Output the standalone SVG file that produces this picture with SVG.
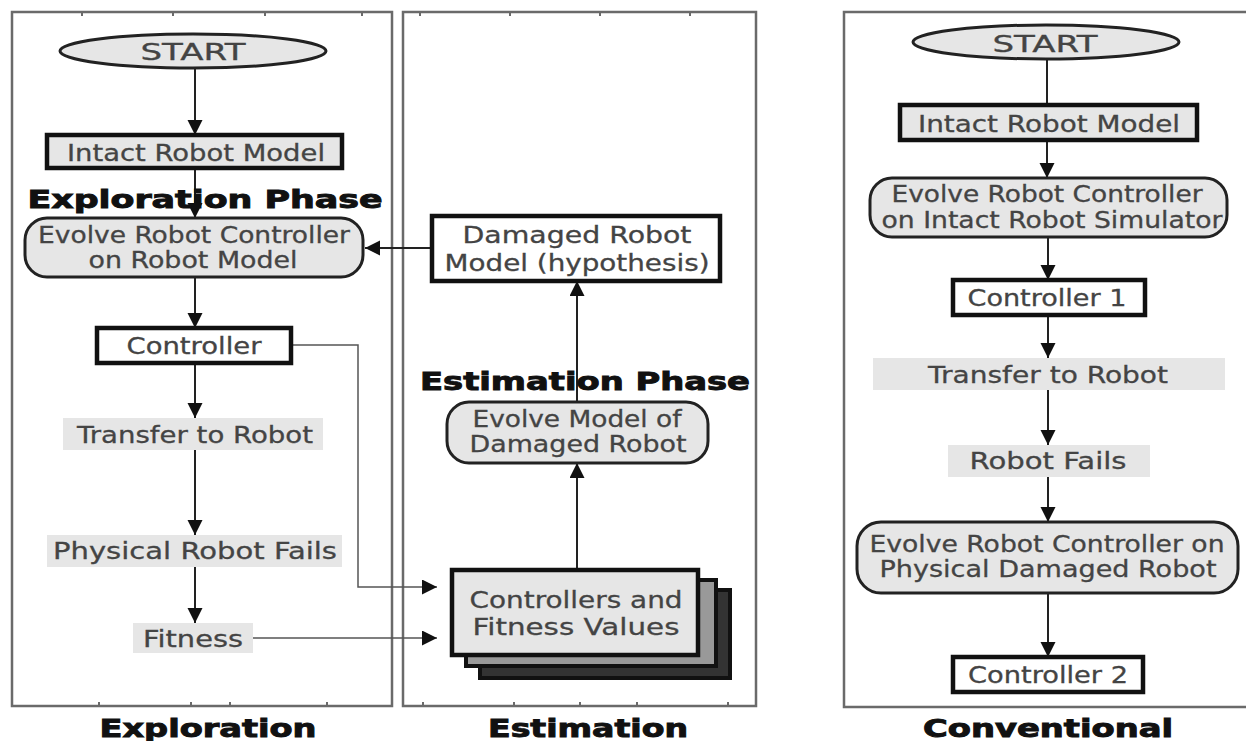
<svg xmlns="http://www.w3.org/2000/svg" width="1246" height="741" viewBox="0 0 1246 741">
<defs>
<marker id="ah" markerUnits="userSpaceOnUse" markerWidth="16" markerHeight="16" refX="15" refY="7.5" orient="auto">
<path d="M0,0 L15,7.5 L0,15 Z" fill="#111"/>
</marker>
</defs>
<style>
.panel{fill:none;stroke:#6a6a6a;stroke-width:2.5}
.tick{stroke:#6a6a6a;stroke-width:2}
.box{fill:#fff;stroke:#111;stroke-width:4.5}
.gbox{fill:#e6e6e6;stroke:#111;stroke-width:4.5}
.rbox{fill:#e6e6e6;stroke:#222;stroke-width:3}
.ell{fill:#e6e6e6;stroke:#222;stroke-width:3}
.lbl{fill:#e6e6e6;stroke:none}
.t{font-family:"DejaVu Sans","Liberation Sans",sans-serif;font-size:23px;fill:#444;stroke:#444;stroke-width:0.3;text-anchor:middle}
.b{font-family:"DejaVu Sans","Liberation Sans",sans-serif;font-weight:bold;font-size:24px;fill:#111;stroke:#111;stroke-width:0.9;text-anchor:middle}
.c{fill:none;stroke:#222;stroke-width:2}
.c2{fill:none;stroke:#555;stroke-width:1.5}
</style>
<rect width="1246" height="741" fill="#fff"/>

<g id="panels">
<rect class="panel" x="12" y="12" width="380" height="694"/>
<rect class="panel" x="403" y="12" width="353" height="694"/>
<path class="panel" d="M1246,12 H844 V707 H1246"/>
<path class="tick" d="M82,12v4M173,12v4M265,12v4M362,12v4M99,706v-4M191,706v-4M230,706v-4M327,706v-4M423,706v-4M514,706v-4M580,706v-4M637,706v-4M728,706v-4M420,12v4M510,12v4M600,12v4M690,12v4"/>
</g>

<g id="connectors">
<line class="c" x1="195" y1="68" x2="195" y2="135" marker-end="url(#ah)"/>
<line class="c" x1="195" y1="168" x2="195" y2="218" marker-end="url(#ah)"/>
<line class="c" x1="195" y1="277" x2="195" y2="328" marker-end="url(#ah)"/>
<line class="c" x1="195" y1="363" x2="195" y2="418" marker-end="url(#ah)"/>
<line class="c" x1="195" y1="450" x2="195" y2="535" marker-end="url(#ah)"/>
<line class="c" x1="195" y1="567" x2="195" y2="623" marker-end="url(#ah)"/>
<line class="c" x1="432" y1="248" x2="365" y2="248" marker-end="url(#ah)"/>
<polyline class="c2" points="291,345 358,345 358,587 437,587" marker-end="url(#ah)"/>
<line class="c2" x1="253" y1="638" x2="437" y2="638" marker-end="url(#ah)"/>
<line class="c" x1="577" y1="402" x2="577" y2="281" marker-end="url(#ah)"/>
<line class="c" x1="577" y1="570" x2="577" y2="463" marker-end="url(#ah)"/>
<line class="c" x1="1047" y1="58" x2="1047" y2="105"/>
<line class="c" x1="1047" y1="140" x2="1047" y2="178" marker-end="url(#ah)"/>
<line class="c" x1="1048" y1="237" x2="1048" y2="280" marker-end="url(#ah)"/>
<line class="c" x1="1048" y1="315" x2="1048" y2="358" marker-end="url(#ah)"/>
<line class="c" x1="1048" y1="390" x2="1048" y2="445" marker-end="url(#ah)"/>
<line class="c" x1="1048" y1="477" x2="1048" y2="522" marker-end="url(#ah)"/>
<line class="c" x1="1048" y1="593" x2="1048" y2="657" marker-end="url(#ah)"/>
</g>

<g id="exp-start"><ellipse class="ell" cx="193" cy="51" rx="133" ry="17"/><text class="t" x="193" y="60" textLength="105" lengthAdjust="spacingAndGlyphs" font-size="25">START</text></g>
<g id="exp-intact"><rect class="gbox" x="47" y="135" width="295" height="33"/><text class="t" x="196" y="161" textLength="258" lengthAdjust="spacingAndGlyphs" font-size="25">Intact Robot Model</text></g>
<g id="exp-phase"><text class="b" x="205" y="208" textLength="355" lengthAdjust="spacingAndGlyphs">Exploration Phase</text></g>
<g id="exp-evolve"><rect class="rbox" x="25" y="218" width="338" height="59" rx="22"/><text class="t" x="194" y="243" textLength="312" lengthAdjust="spacingAndGlyphs">Evolve Robot Controller</text><text class="t" x="193" y="268" textLength="209" lengthAdjust="spacingAndGlyphs">on Robot Model</text></g>
<g id="exp-controller"><rect class="box" x="97" y="328" width="194" height="35"/><text class="t" x="194" y="354" textLength="135" lengthAdjust="spacingAndGlyphs">Controller</text></g>
<g id="exp-transfer"><rect class="lbl" x="63" y="418" width="260" height="32"/><text class="t" x="195" y="443" textLength="236" lengthAdjust="spacingAndGlyphs">Transfer to Robot</text></g>
<g id="exp-fails"><rect class="lbl" x="47" y="535" width="295" height="32"/><text class="t" x="195" y="559" textLength="284" lengthAdjust="spacingAndGlyphs">Physical Robot Fails</text></g>
<g id="exp-fitness"><rect class="lbl" x="133" y="623" width="120" height="30"/><text class="t" x="193" y="647" textLength="100" lengthAdjust="spacingAndGlyphs">Fitness</text></g>
<g id="exp-label"><text class="b" x="208" y="737" textLength="217" lengthAdjust="spacingAndGlyphs" font-size="26">Exploration</text></g>

<g id="est-damaged"><rect class="box" x="432" y="216" width="288" height="65"/><text class="t" x="577" y="243" textLength="229" lengthAdjust="spacingAndGlyphs">Damaged Robot</text><text class="t" x="577" y="271" textLength="265" lengthAdjust="spacingAndGlyphs">Model (hypothesis)</text></g>
<g id="est-phase"><text class="b" x="585" y="390" textLength="330" lengthAdjust="spacingAndGlyphs">Estimation Phase</text></g>
<g id="est-evolve"><rect class="rbox" x="447" y="402" width="261" height="61" rx="22"/><text class="t" x="577" y="427" textLength="209" lengthAdjust="spacingAndGlyphs">Evolve Model of</text><text class="t" x="578" y="452" textLength="217" lengthAdjust="spacingAndGlyphs">Damaged Robot</text></g>
<g id="est-stack"><rect x="480" y="590" width="250" height="88" fill="#333" stroke="#111" stroke-width="4"/><rect x="466" y="580" width="250" height="86" fill="#999" stroke="#111" stroke-width="4"/><rect class="gbox" x="452" y="570" width="246" height="85"/><text class="t" x="576" y="608" textLength="213" lengthAdjust="spacingAndGlyphs">Controllers and</text><text class="t" x="576" y="635" textLength="207" lengthAdjust="spacingAndGlyphs">Fitness Values</text></g>
<g id="est-label"><text class="b" x="588" y="737" textLength="200" lengthAdjust="spacingAndGlyphs" font-size="26">Estimation</text></g>

<g id="con-start"><ellipse class="ell" cx="1046" cy="42" rx="133" ry="17"/><text class="t" x="1045" y="52" textLength="105" lengthAdjust="spacingAndGlyphs" font-size="25">START</text></g>
<g id="con-intact"><rect class="gbox" x="900" y="105" width="297" height="35"/><text class="t" x="1049" y="132" textLength="262" lengthAdjust="spacingAndGlyphs" font-size="25">Intact Robot Model</text></g>
<g id="con-evolve1"><rect class="rbox" x="870" y="178" width="357" height="59" rx="22"/><text class="t" x="1047" y="202" textLength="311" lengthAdjust="spacingAndGlyphs">Evolve Robot Controller</text><text class="t" x="1052" y="228" textLength="341" lengthAdjust="spacingAndGlyphs">on Intact Robot Simulator</text></g>
<g id="con-ctrl1"><rect class="box" x="953" y="280" width="192" height="35"/><text class="t" x="1047" y="306" textLength="159" lengthAdjust="spacingAndGlyphs">Controller 1</text></g>
<g id="con-transfer"><rect class="lbl" x="873" y="358" width="352" height="32"/><text class="t" x="1048" y="383" textLength="240" lengthAdjust="spacingAndGlyphs">Transfer to Robot</text></g>
<g id="con-fails"><rect class="lbl" x="948" y="445" width="202" height="32"/><text class="t" x="1048" y="469" textLength="157" lengthAdjust="spacingAndGlyphs">Robot Fails</text></g>
<g id="con-evolve2"><rect class="rbox" x="857" y="522" width="381" height="71" rx="24"/><text class="t" x="1047" y="552" textLength="355" lengthAdjust="spacingAndGlyphs">Evolve Robot Controller on</text><text class="t" x="1048" y="577" textLength="337" lengthAdjust="spacingAndGlyphs">Physical Damaged Robot</text></g>
<g id="con-ctrl2"><rect class="box" x="953" y="657" width="190" height="35"/><text class="t" x="1048" y="683" textLength="160" lengthAdjust="spacingAndGlyphs">Controller 2</text></g>
<g id="con-label"><text class="b" x="1048" y="737" textLength="250" lengthAdjust="spacingAndGlyphs" font-size="26">Conventional</text></g>
</svg>
